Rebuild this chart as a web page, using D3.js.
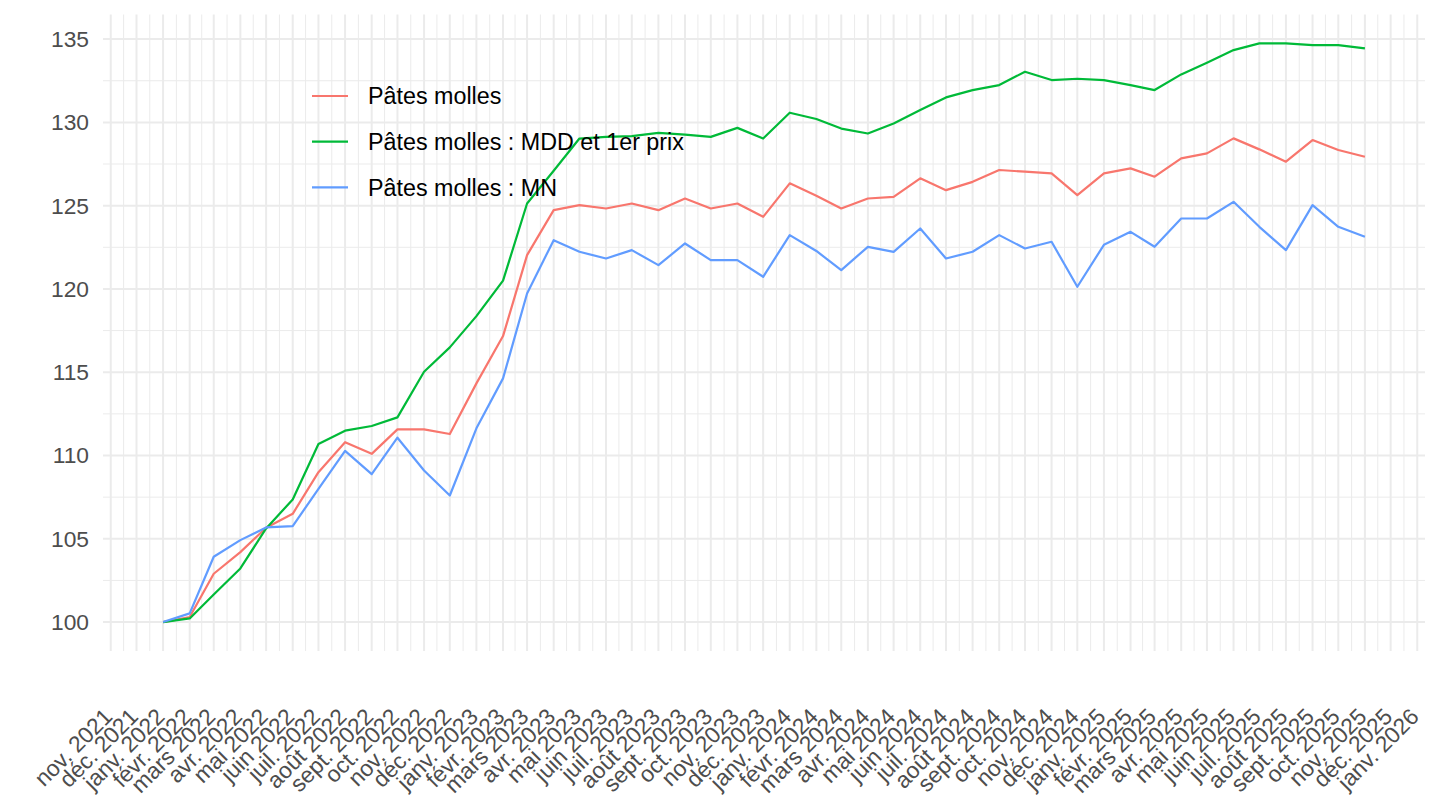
<!DOCTYPE html>
<html>
<head>
<meta charset="utf-8">
<script src="https://cdn.jsdelivr.net/npm/d3@7"></script>
<style>
    body { margin: 0; background: #fff; }
    #chart { width: 1440px; height: 810px; }
    .tick-label { font-family: 'Liberation Sans', Arial, sans-serif; font-size: 22.8px; fill: #4d4d4d; }
    .legend-label { font-family: 'Liberation Sans', Arial, sans-serif; font-size: 23.3px; fill: #000; }
</style>
</head>
<body>
<div id="chart"></div>
<script>
// first month of the series (janv. 2022), one value per month up to nov. 2025
const firstMonth = new Date(2022, 0, 1);

// french short month names used for the x tick labels
const monthNames = ['janv.', 'févr.', 'mars', 'avr.', 'mai', 'juin',
    'juil.', 'août', 'sept.', 'oct.', 'nov.', 'déc.'];

const seriesNames = ['Pâtes molles', 'Pâtes molles : MDD et 1er prix', 'Pâtes molles : MN'];
const seriesColors = ['#F8766D', '#00BA38', '#619CFF'];

const patesMolles = [100, 100.3, 102.9, 104.2, 105.66, 106.5, 109.0, 110.8, 110.1, 111.57,
    111.57, 111.29, 114.33, 117.17, 122.03, 124.73, 125.03, 124.83, 125.13, 124.73,
    125.43, 124.83, 125.13, 124.33, 126.34, 125.6, 124.83, 125.43, 125.53, 126.64,
    125.93, 126.43, 127.14, 127.04, 126.94, 125.63, 126.94, 127.24, 126.74, 127.84,
    128.14, 129.04, 128.38, 127.64, 128.94, 128.34, 127.94];

const patesMollesMDD = [100, 100.22, 101.66, 103.22, 105.62, 107.36, 110.69, 111.49, 111.77, 112.29,
    115.03, 116.49, 118.37, 120.5, 125.13, 127.1, 129.03, 129.13, 129.17, 129.37,
    129.27, 129.13, 129.67, 129.03, 130.58, 130.2, 129.63, 129.33, 129.93, 130.74,
    131.5, 131.94, 132.24, 133.04, 132.54, 132.62, 132.54, 132.24, 131.94, 132.88,
    133.58, 134.34, 134.74, 134.74, 134.64, 134.64, 134.44];

const patesMollesMN = [100, 100.52, 103.92, 104.92, 105.68, 105.76, 108.0, 110.28, 108.88, 111.07,
    109.1, 107.6, 111.63, 114.63, 119.73, 122.93, 122.23, 121.83, 122.33, 121.43,
    122.73, 121.73, 121.73, 120.73, 123.23, 122.28, 121.13, 122.53, 122.23, 123.63,
    121.83, 122.23, 123.23, 122.43, 122.83, 120.13, 122.65, 123.43, 122.53, 124.23,
    124.23, 125.23, 123.73, 122.33, 125.03, 123.73, 123.13];

const yBreaks = [100, 105, 110, 115, 120, 125, 130, 135];

drawChart();

function drawChart() {
    const width = 1440;
    const height = 810;
    const panel = { left: 103, right: 1425, top: 14.5, bottom: 651 };

    const svg = d3.select('#chart')
        .append('svg')
        .attr('width', width)
        .attr('height', height);

    // build the series as arrays of {date, value}
    const allValues = [patesMolles, patesMollesMDD, patesMollesMN];
    const series = allValues.map((vals, k) => ({
        name: seriesNames[k],
        color: seriesColors[k],
        values: vals.map((v, i) => ({ date: d3.timeMonth.offset(firstMonth, i), value: v }))
    }));

    // x domain padded by 5% like ggplot
    const dates = series[0].values.map(d => d.date);
    const xExt = d3.extent(dates);
    const xPad = (xExt[1] - xExt[0]) * 0.05;
    const x = d3.scaleTime()
        .domain([new Date(+xExt[0] - xPad), new Date(+xExt[1] + xPad)])
        .range([panel.left, panel.right]);

    const yExt = d3.extent(allValues.flat());
    const yPad = (yExt[1] - yExt[0]) * 0.05;
    const y = d3.scaleLinear()
        .domain([yExt[0] - yPad, yExt[1] + yPad])
        .range([panel.bottom, panel.top]);

    // monthly breaks inside the domain, minor breaks halfway
    const xBreaks = d3.timeMonth.range(x.domain()[0], x.domain()[1]);
    const xMinor = d3.pairs(xBreaks).map(p => new Date((+p[0] + +p[1]) / 2));
    const yMinor = d3.pairs(yBreaks).map(p => (p[0] + p[1]) / 2);

    const grid = svg.append('g').attr('class', 'grid');

    grid.selectAll('.y-minor')
        .data(yMinor)
        .join('line')
        .attr('x1', panel.left).attr('x2', panel.right)
        .attr('y1', d => y(d)).attr('y2', d => y(d))
        .attr('stroke', '#ebebeb').attr('stroke-width', 1);

    grid.selectAll('.x-minor')
        .data(xMinor)
        .join('line')
        .attr('x1', d => x(d)).attr('x2', d => x(d))
        .attr('y1', panel.top).attr('y2', panel.bottom)
        .attr('stroke', '#ebebeb').attr('stroke-width', 1);

    grid.selectAll('.y-major')
        .data(yBreaks)
        .join('line')
        .attr('class', 'y-major')
        .attr('x1', panel.left).attr('x2', panel.right)
        .attr('y1', d => y(d)).attr('y2', d => y(d))
        .attr('stroke', '#ebebeb').attr('stroke-width', 2);

    grid.selectAll('.x-major')
        .data(xBreaks)
        .join('line')
        .attr('class', 'x-major')
        .attr('x1', d => x(d)).attr('x2', d => x(d))
        .attr('y1', panel.top).attr('y2', panel.bottom)
        .attr('stroke', '#ebebeb').attr('stroke-width', 2);

    // y axis labels
    svg.append('g')
        .selectAll('text')
        .data(yBreaks)
        .join('text')
        .attr('class', 'tick-label')
        .attr('x', 89)
        .attr('y', d => y(d))
        .attr('dy', '0.35em')
        .attr('text-anchor', 'end')
        .text(d => d);

    // x axis labels, rotated 45 degrees
    svg.append('g')
        .selectAll('text')
        .data(xBreaks)
        .join('text')
        .attr('class', 'tick-label')
        .attr('text-anchor', 'end')
        .attr('transform', d => 'translate(' + (x(d) + 3) + ',718) rotate(-45)')
        .text(d => monthNames[d.getMonth()] + ' ' + d.getFullYear());

    // the three lines
    const line = d3.line()
        .x(d => x(d.date))
        .y(d => y(d.value));

    svg.append('g')
        .selectAll('path')
        .data(series)
        .join('path')
        .attr('d', d => line(d.values))
        .attr('fill', 'none')
        .attr('stroke', d => d.color)
        .attr('stroke-width', 2.2)
        .attr('stroke-linejoin', 'round');

    drawLegend(svg, series);
}

function drawLegend(svg, series) {
    const legend = svg.append('g')
        .attr('transform', 'translate(312,96)')
        .selectAll('g')
        .data(series)
        .join('g')
        .attr('transform', (d, i) => 'translate(0,' + (i * 45.7) + ')');

    legend.append('line')
        .attr('x1', 0).attr('x2', 36)
        .attr('stroke', d => d.color)
        .attr('stroke-width', 2.2);

    legend.append('text')
        .attr('class', 'legend-label')
        .attr('x', 56)
        .attr('dy', '0.35em')
        .text(d => d.name);
}
</script>
</body>
</html>
